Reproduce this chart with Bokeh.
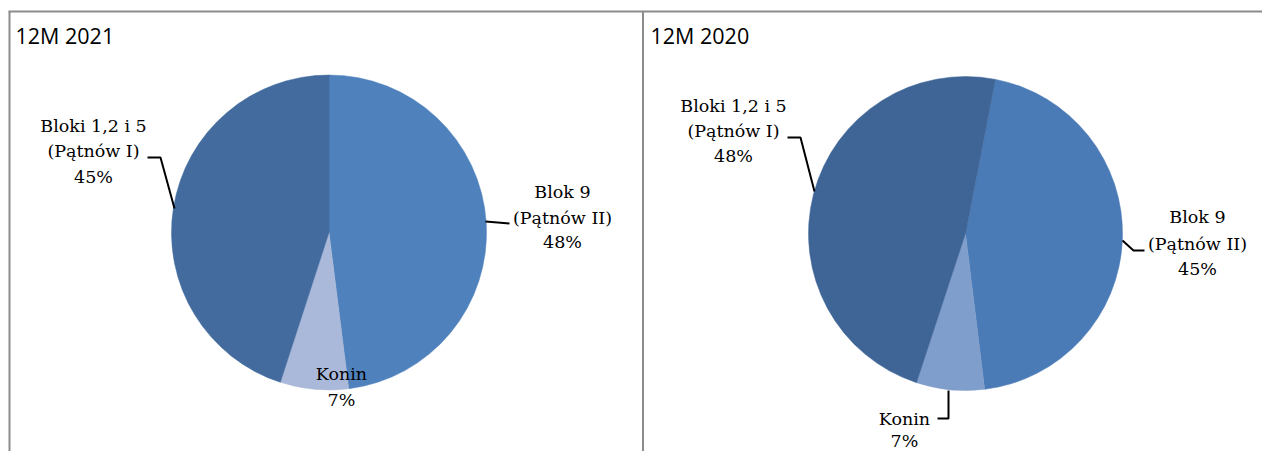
import math
from bokeh.plotting import figure
from bokeh.models import Range1d
from bokeh.embed import file_html
from bokeh.resources import INLINE
from bokeh.core.properties import value

# ---- data ----
titles = ["12M 2021", "12M 2020"]
categories = ["Blok 9 (Pątnów II)", "Konin", "Bloki 1,2 i 5 (Pątnów I)"]
label_lines = [["Blok 9", "(Pątnów II)"], ["Konin"], ["Bloki 1,2 i 5", "(Pątnów I)"]]
shares_2021 = [48, 7, 45]
shares_2020 = [45, 7, 48]

# ---- layout (picture pixel coordinates) ----
W, H = 1262, 451


def Y(py):
    return -py


p = figure(width=W, height=H, x_range=Range1d(0, W), y_range=Range1d(-H, 0),
           x_axis_type=None, y_axis_type=None, output_backend="svg",
           toolbar_location=None, min_border=0, outline_line_color=None,
           background_fill_color="white", border_fill_color="white")

panels = [
    dict(title=titles[0], title_x=15, shares=shares_2021, cx=328.5, cy=232, r=157.5, offset=0.0,
         colors=["#4f81bd", "#aab9d9", "#436b9e"],
         labels=[dict(x=562, mid=[191.5, 217.5, 241.5], leader=[(485, 221), (497, 222), (509, 223)]),
                 dict(x=341, mid=[373, 399.5], leader=None),
                 dict(x=93, mid=[125, 150.5, 176], leader=[(147, 157), (160, 157), (174, 208)])]),
    dict(title=titles[1], title_x=650, shares=shares_2020, cx=965, cy=233, r=157, offset=11.0,
         colors=["#4a7bb6", "#809ecb", "#3e6596"],
         labels=[dict(x=1197, mid=[216.5, 243, 268.5], leader=[(1122, 240), (1133, 250), (1144, 250)]),
                 dict(x=904, mid=[418, 440], leader=[(937, 418), (948, 418), (948, 390)]),
                 dict(x=733, mid=[105, 130, 155], leader=[(787, 137), (800, 137), (814, 191)])]),
]

# panel borders
border = "#8c8c8c"
p.line([8, W], [Y(11), Y(11)], line_color=border, line_width=2)
p.line([9, 9], [Y(11), Y(H + 2)], line_color=border, line_width=2)
p.line([642.5, 642.5], [Y(11), Y(H + 2)], line_color=border, line_width=2)

for pn in panels:
    total = float(sum(pn["shares"]))
    cum = 0.0
    starts, ends = [], []
    for s in pn["shares"]:
        a0 = math.pi / 2 - math.radians(pn["offset"]) - 2 * math.pi * cum / total
        cum += s
        a1 = math.pi / 2 - math.radians(pn["offset"]) - 2 * math.pi * cum / total
        starts.append(a0)
        ends.append(a1)
    p.wedge(x=[pn["cx"]] * len(starts), y=[Y(pn["cy"])] * len(starts), radius=pn["r"],
            start_angle=starts, end_angle=ends, direction="clock",
            fill_color=pn["colors"], line_color=pn["colors"], line_width=0.5)

    # title
    p.text(x=[pn["title_x"]], y=[Y(34.5)], text=[pn["title"]], text_font=value("Open Sans"),
           text_font_size="21.5px", text_color="black", text_baseline="middle", text_align="left")

    # labels
    for i, lab in enumerate(pn["labels"]):
        lines = label_lines[i] + [f"{pn['shares'][i]}%"]
        p.text(x=[lab["x"]] * len(lines), y=[Y(m) for m in lab["mid"]], text=lines,
               text_font=value("DejaVu Serif"), text_font_size="17.5px", text_color="black",
               text_align="center", text_baseline="middle")
        if lab["leader"]:
            xs = [pt[0] for pt in lab["leader"]]
            ys = [Y(pt[1]) for pt in lab["leader"]]
            p.line(xs, ys, line_color="black", line_width=2)

open("out.html", "w").write(file_html(p, INLINE))
